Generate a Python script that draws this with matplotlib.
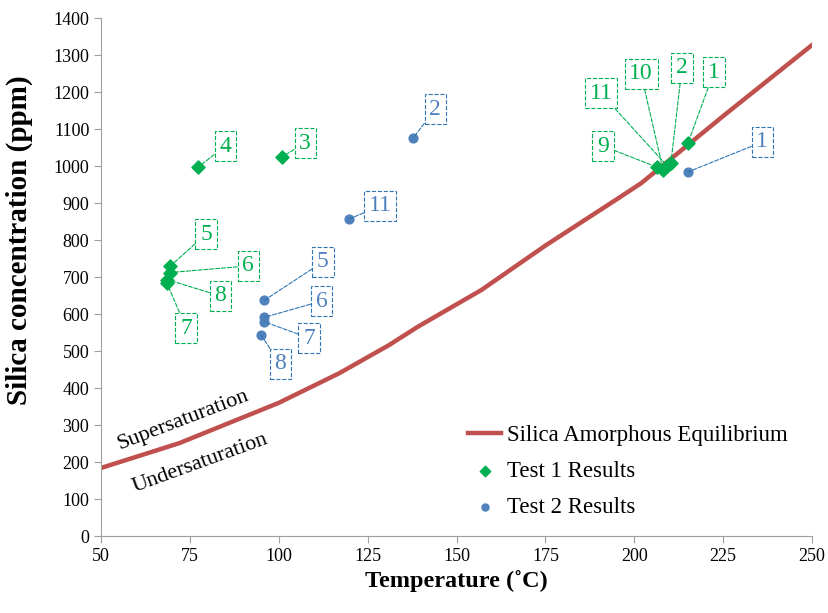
import matplotlib.pyplot as plt

plt.rcParams['font.family'] = ['Liberation Serif', 'DejaVu Serif']

# equilibrium curve
eq_temp = [50, 72, 100, 117, 131, 139, 157, 175, 196, 202, 225, 250]
eq_ppm = [184, 251, 360, 440, 516, 565, 665, 785, 916, 954, 1135, 1327]

# test 1 (green diamonds)
t1_labels = ['1', '2', '3', '4', '5', '6', '7', '8', '9', '10', '11']
t1_temp = [215.1, 210.3, 100.9, 77.3, 69.5, 69.3, 68.5, 68.6, 206.4, 208.1, 209.2]
t1_ppm = [1062, 1008, 1025, 997, 730, 712, 684, 693, 997, 990, 1001]
t1_text_x = [222.4, 213.4, 107.4, 84.9, 79.5, 91.4, 73.9, 83.5, 191.2, 201.9, 190.6]
t1_text_y = [1254, 1265, 1062, 1054, 816, 730, 562, 649, 1054, 1249, 1197]

# test 2 (blue circles)
t2_labels = ['1', '2', '5', '6', '7', '8', '11']
t2_temp = [215.1, 137.8, 95.9, 95.9, 95.9, 95.0, 119.8]
t2_ppm = [984, 1076, 637, 591, 579, 543, 857]
t2_text_x = [236.0, 144.0, 112.4, 112.0, 108.5, 100.4, 128.5]
t2_text_y = [1065, 1154, 741, 635, 535, 465, 892]

green = '#00B050'
blue = '#4F81BD'
red = '#C0504D'

fig = plt.figure(figsize=(8.29, 6.13), dpi=100)
ax = fig.add_axes([0.122, 0.1256, 0.8575, 0.845])

ax.plot(eq_temp, eq_ppm, color=red, lw=3.2, label='Silica Amorphous Equilibrium', zorder=2)
ax.scatter(t1_temp, t1_ppm, marker='D', s=45, color=green, label='Test 1 Results', zorder=3)
ax.scatter(t2_temp, t2_ppm, marker='o', s=40, color=blue, label='Test 2 Results', zorder=3)

for lab, x, y, tx, ty in zip(t1_labels, t1_temp, t1_ppm, t1_text_x, t1_text_y):
    ax.annotate(lab, xy=(x, y), xytext=(tx, ty), ha='center', va='center',
                fontsize=17, color=green,
                bbox=dict(boxstyle='square,pad=0.2', fc='white', ec=green, ls='--', lw=0.8),
                arrowprops=dict(arrowstyle='-', color=green, ls='--', lw=0.8,
                                shrinkA=0, shrinkB=0))

for lab, x, y, tx, ty in zip(t2_labels, t2_temp, t2_ppm, t2_text_x, t2_text_y):
    ax.annotate(lab, xy=(x, y), xytext=(tx, ty), ha='center', va='center',
                fontsize=17, color=blue,
                bbox=dict(boxstyle='square,pad=0.2', fc='white', ec='#2E75B6', ls='--', lw=0.8),
                arrowprops=dict(arrowstyle='-', color='#2E75B6', ls='--', lw=0.8,
                                shrinkA=0, shrinkB=0))

ax.text(73, 313, 'Supersaturation', rotation=21, fontsize=16, ha='center', va='center')
ax.text(77.8, 197, 'Undersaturation', rotation=20, fontsize=16, ha='center', va='center')

ax.set_xlim(50, 250)
ax.set_ylim(0, 1400)
ax.set_xticks(range(50, 251, 25))
ax.set_yticks(range(0, 1401, 100))
ax.tick_params(labelsize=13, color='#A0A0A0', length=5, direction='out')
for s in ['top', 'right']:
    ax.spines[s].set_visible(False)
for s in ['left', 'bottom']:
    ax.spines[s].set_color('#A0A0A0')
ax.set_xlabel('Temperature (˚C)', fontsize=17.5, fontweight='bold', labelpad=4)
ax.set_ylabel('Silica concentration (ppm)', fontsize=21, fontweight='bold')
ax.yaxis.set_label_coords(-0.0956, 0.571)

ax.legend(loc='lower right', bbox_to_anchor=(0.995, -0.005), frameon=False, fontsize=16.5,
          handlelength=1.45, handletextpad=0.25, labelspacing=0.66, markerscale=0.8)

fig.savefig('out.png', dpi=100)
